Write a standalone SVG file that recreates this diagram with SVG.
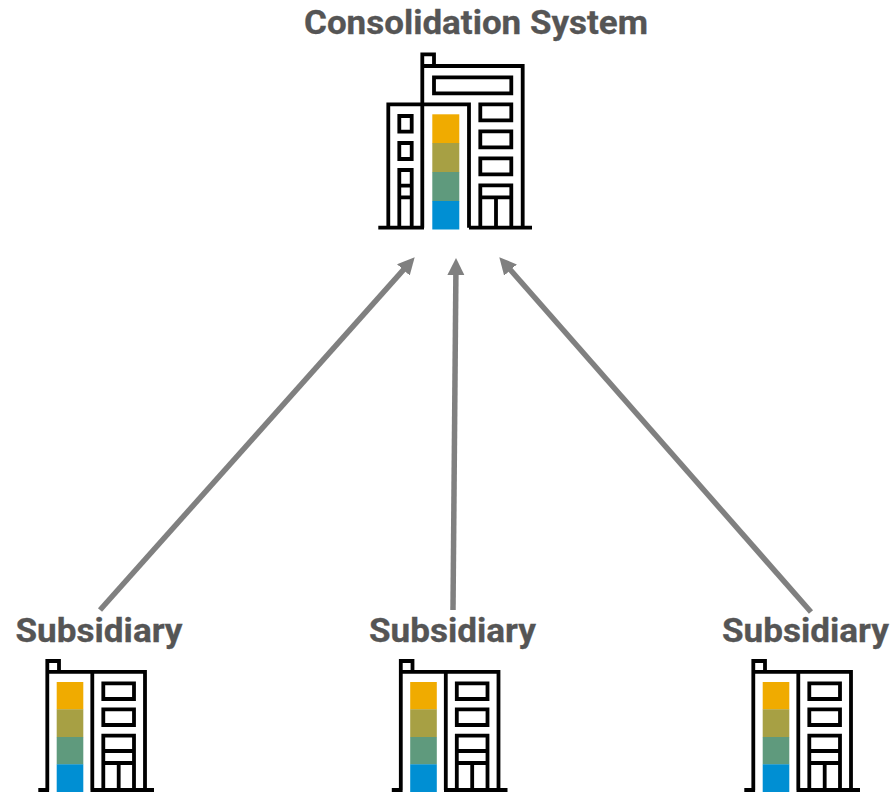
<svg xmlns="http://www.w3.org/2000/svg" xmlns:xlink="http://www.w3.org/1999/xlink" width="893" height="792" viewBox="0 0 893 792">
<style>
.t{font-family:Roboto,"Liberation Sans",Arial,sans-serif;font-weight:700;font-size:33px;fill:#555;text-anchor:middle;stroke:#555;stroke-width:.3}
.o{fill:none;stroke:#000;stroke-width:3.8}
.c{fill:none;stroke:#808080;stroke-width:5.5}
</style>
<defs>
<marker id="a" markerUnits="userSpaceOnUse" markerWidth="18" markerHeight="18" refX="2" refY="8.5" orient="auto"><path d="M0 0L17 8.5L0 17Z" fill="#808080"/></marker>
<g id="sub">
<rect x="56.7" y="682" width="26.6" height="27.5" fill="#f0ab00"/>
<rect x="56.7" y="709.3" width="26.6" height="27.9" fill="#a7a044"/>
<rect x="56.7" y="737" width="26.6" height="27.5" fill="#5f9a7d"/>
<rect x="56.7" y="764.3" width="26.6" height="27.7" fill="#008fd3"/>
<path class="o" d="M38.3 790H49.1M47.3 790V661H59V671.9H145V790M47.3 671.9H59M90.5 671.9H92.3V790M90.5 790H154M103.3 683.3H134V699H103.3ZM103.3 709.3H134V725H103.3ZM103.3 790V735.7H134V790M103.3 751H134M103.3 763H134M118.7 763V790"/>
</g>
</defs>
<g id="connectors">
<path class="c" d="M100 610L404.7 268.4" marker-end="url(#a)"/>
<path class="c" d="M453 610L455.9 273" marker-end="url(#a)"/>
<path class="c" d="M811 612L509.2 268.5" marker-end="url(#a)"/>
</g>
<g id="consolidation">
<text class="t" x="476" y="33.5" textLength="344" lengthAdjust="spacingAndGlyphs">Consolidation System</text>
<rect x="432.3" y="114.3" width="27" height="29" fill="#f0ab00"/>
<rect x="432.3" y="143" width="27" height="29.3" fill="#a7a044"/>
<rect x="432.3" y="172" width="27" height="29.3" fill="#5f9a7d"/>
<rect x="432.3" y="201" width="27" height="28.5" fill="#008fd3"/>
<path class="o" d="M378.3 227.7H424M469 227.7H532M388.3 227.7V104.3H469V227.7M422.3 227.7V54.3H434V66H522.7V227.7M422.3 66H434M434 77.3H511.3V93.3H434ZM399.3 116H411.7V131.7H399.3ZM399.3 143H411.7V159H399.3ZM399.3 227.7V170H411.7V227.7M399.3 185.7H411.7M399.3 197.3H411.7M480.3 104.3H511.3V120.3H480.3ZM480.3 131.3H511.3V147.3H480.3ZM480.3 158.3H511.3V174.3H480.3ZM480.3 227.7V185.3H511.3V227.7M480.3 197.3H511.3M496 197.3V227.7"/>
</g>
<g id="subsidiary-1"><text class="t" x="99" y="641.5" textLength="167" lengthAdjust="spacingAndGlyphs">Subsidiary</text><use xlink:href="#sub"/></g>
<g id="subsidiary-2"><text class="t" x="452.4" y="641.5" textLength="167" lengthAdjust="spacingAndGlyphs">Subsidiary</text><use xlink:href="#sub" x="353.5"/></g>
<g id="subsidiary-3"><text class="t" x="805.4" y="641.5" textLength="167" lengthAdjust="spacingAndGlyphs">Subsidiary</text><use xlink:href="#sub" x="706"/></g>
</svg>
